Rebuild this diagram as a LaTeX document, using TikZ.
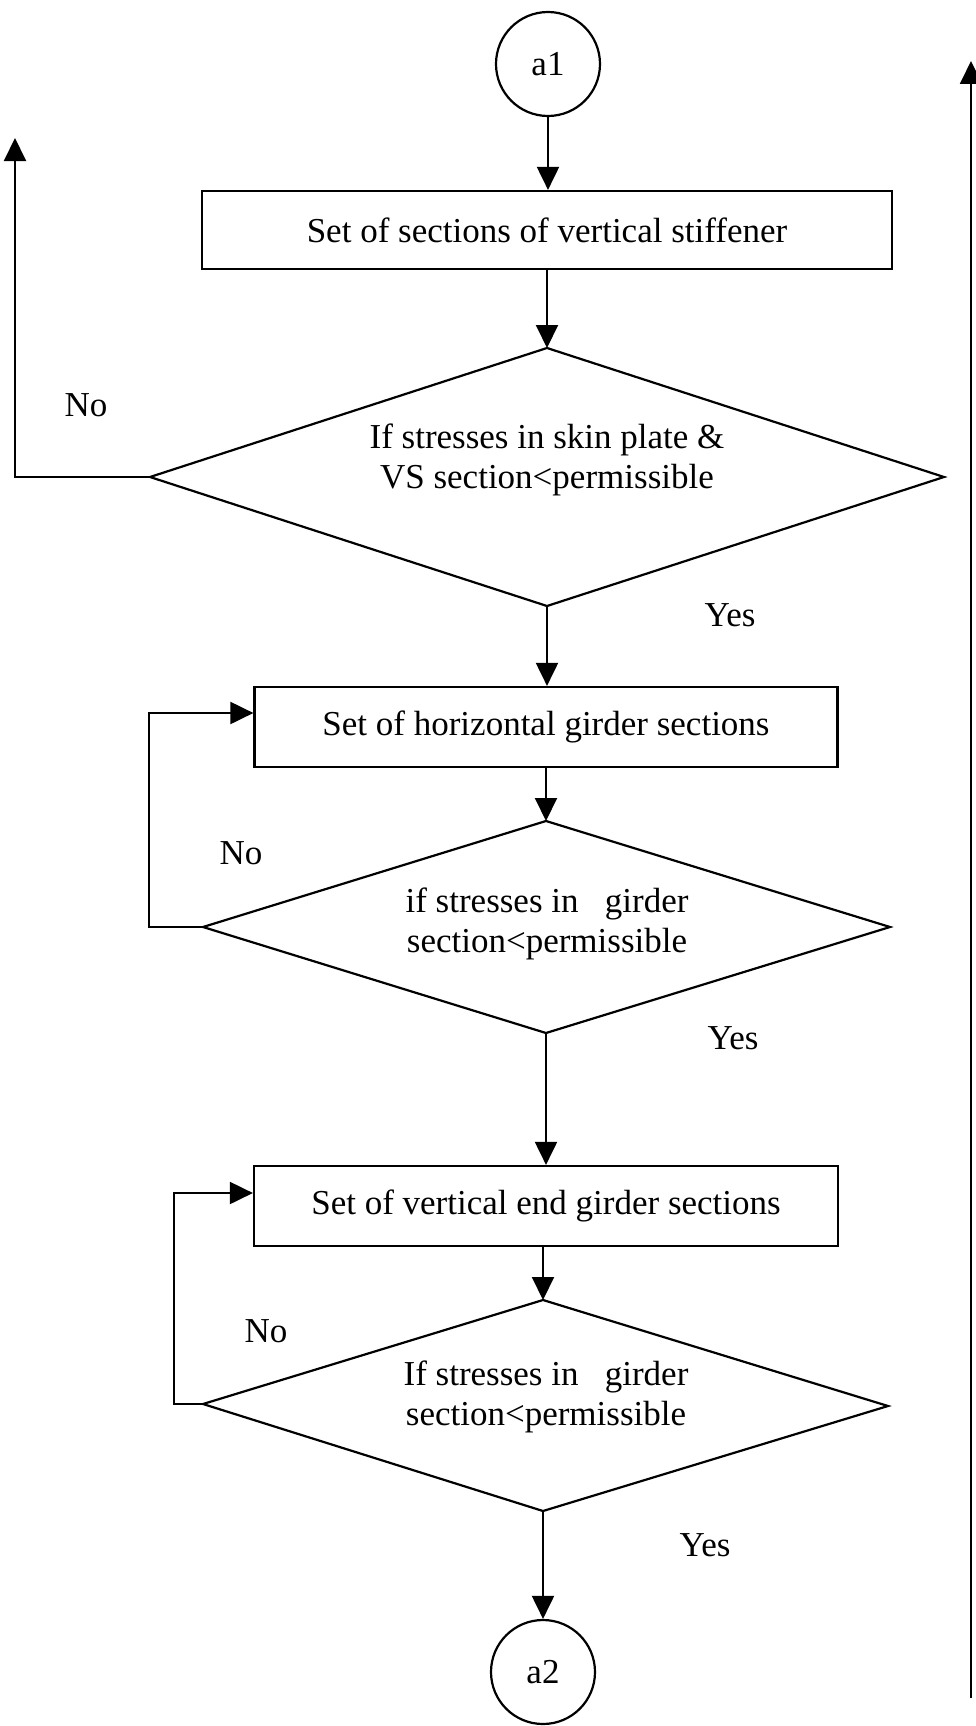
\documentclass[tikz,border=0pt]{standalone}
\usepackage{fontspec}
\setmainfont{Liberation Serif}
\usetikzlibrary{arrows.meta}

\begin{document}
\begin{tikzpicture}[x=1pt,y=-1pt,
  line width=2.2pt,
  every node/.style={font=\fontsize{35}{40}\selectfont},
  flow/.style={-{Triangle[length=23pt,width=22pt]}, line width=2pt},
  stepbox/.style={draw, rectangle, inner sep=0pt, line width=2.2pt},
  connector/.style={draw, circle, minimum size=104pt, inner sep=0pt, line width=2.2pt},
  decision/.style={draw, line width=2.2pt, line join=miter},
  question/.style={align=center, inner sep=0pt},
  answer/.style={inner sep=0pt}]

\useasboundingbox (0,0) rectangle (975,1726);

% connectors at the ends
\node[connector] (a1) at (548,64) {a1};
\node[connector] (a2) at (543,1672) {a2};

% process boxes
\node[stepbox, minimum width=690pt, minimum height=78pt] (b1) at (547,230) {Set of sections of vertical stiffener};
\node[stepbox, minimum width=583pt, minimum height=80pt] (b2) at (546,727) {Set of horizontal girder sections};
\node[stepbox, minimum width=584pt, minimum height=80pt] (b3) at (546,1206) {Set of vertical end girder sections};

% decision 1
\coordinate (d1t) at (547,348);
\coordinate (d1l) at (150,477);
\coordinate (d1r) at (944,477);
\coordinate (d1b) at (547,606);
\draw[decision] (d1t) -- (d1r) -- (d1b) -- (d1l) -- cycle;
\node[question] (q1) at (547,460) {If stresses in skin plate \&\\VS section<permissible};

% decision 2
\coordinate (d2t) at (546,821);
\coordinate (d2l) at (203,927);
\coordinate (d2r) at (890,927);
\coordinate (d2b) at (546,1033);
\draw[decision] (d2t) -- (d2r) -- (d2b) -- (d2l) -- cycle;
\node[question] (q2) at (547,924) {if stresses in \ \ girder\\section<permissible};

% decision 3
\coordinate (d3t) at (543,1300);
\coordinate (d3l) at (203,1404);
\coordinate (d3r) at (888,1406);
\coordinate (d3b) at (543,1511);
\draw[decision] (d3t) -- (d3r) -- (d3b) -- (d3l) -- cycle;
\node[question] (q3) at (546,1397) {If stresses in \ \ girder\\section<permissible};

% main flow
\draw[flow] (a1) -- (b1.north -| a1);
\draw[flow] (b1.south -| d1t) -- (d1t);
\draw[flow] (d1b) -- (b2.north -| d1b);
\draw[flow] (b2.south -| d2t) -- (d2t);
\draw[flow] (d2b) -- (b3.north -| d2b);
\draw[flow] (b3.south -| d3t) -- (d3t);
\draw[flow] (d3b) -- (a2);

% "No" branches
\coordinate (up1) at (15,138);
\draw[flow] (d1l) -- (up1 |- d1l) -- (up1);
\coordinate (lp2) at (149,713);
\draw[flow] (d2l) -- (lp2 |- d2l) -- (lp2) -- (b2.west |- lp2);
\coordinate (lp3) at (174,1193);
\draw[flow] (d3l) -- (lp3 |- d3l) -- (lp3) -- (b3.west |- lp3);

% return line on the right
\coordinate (rb) at (971,1698);
\coordinate (rt) at (971,61);
\draw[flow] (rb) -- (rt);

% branch labels
\node[answer] (n1) at (86,405) {No};
\node[answer] (y1) at (730,615) {Yes};
\node[answer] (n2) at (241,853) {No};
\node[answer] (y2) at (733,1038) {Yes};
\node[answer] (n3) at (266,1331) {No};
\node[answer] (y3) at (705,1545) {Yes};

\end{tikzpicture}
\end{document}
